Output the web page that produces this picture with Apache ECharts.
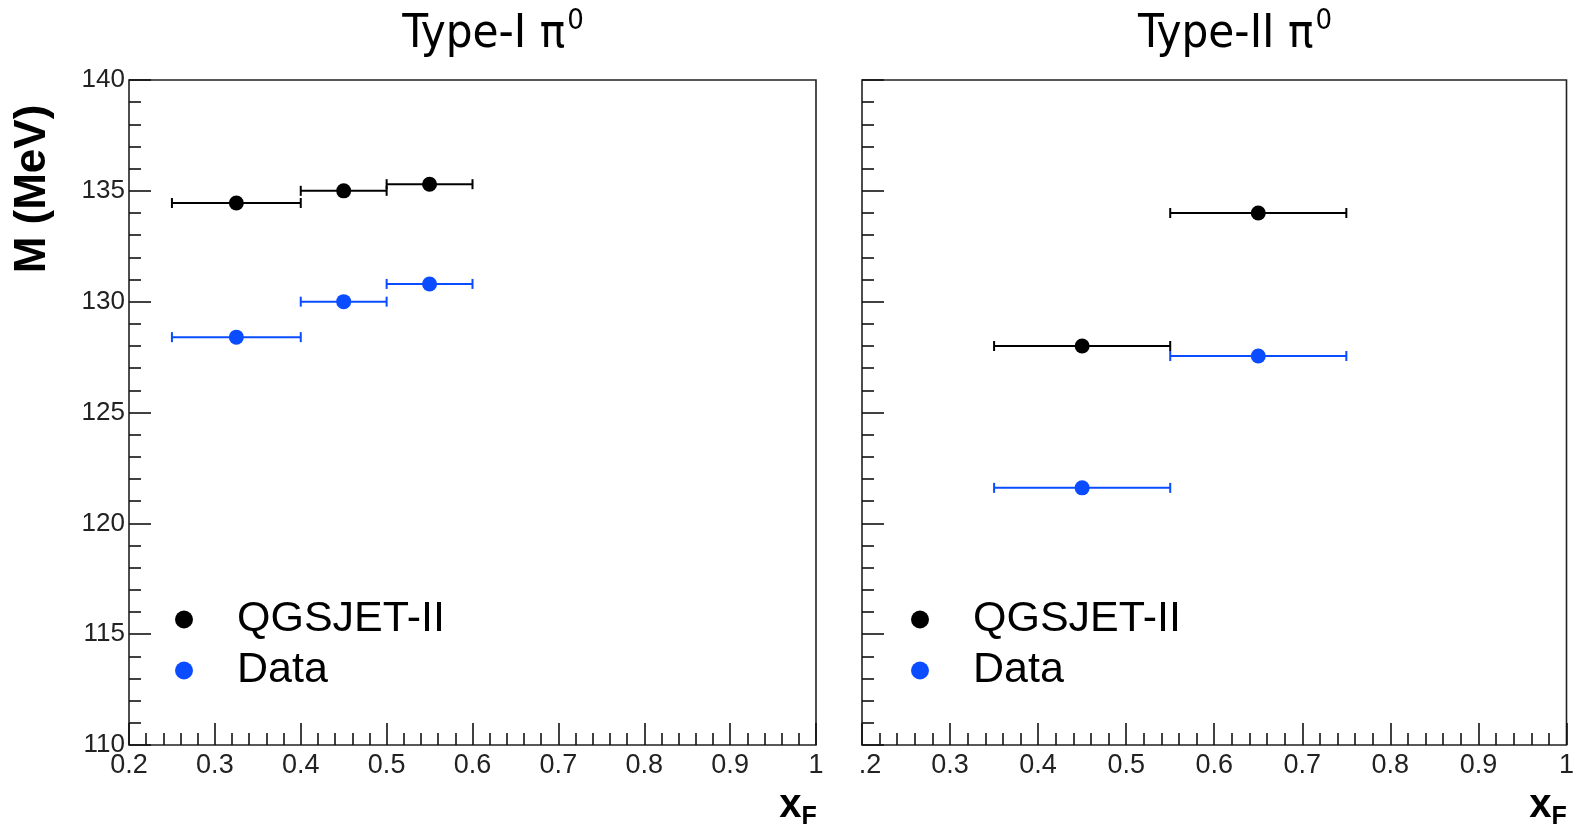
<!DOCTYPE html>
<html>
<head>
<meta charset="utf-8">
<title>pi0 mass vs xF</title>
<script src="https://cdn.jsdelivr.net/npm/echarts@6/dist/echarts.min.js"></script>
<style>
  html, body { margin: 0; padding: 0; background: #fff; }
  #chart { width: 1577px; height: 826px; }
</style>
</head>
<body>
<div id="chart"></div>
<script>
// Type-I pi0: bin centres, bin edges and reconstructed mass (MeV)
const xCentersI = [0.325, 0.45, 0.55];
const xLowI = [0.25, 0.40, 0.50];
const xHighI = [0.40, 0.50, 0.60];
const qgsjetI = [134.45, 135.0, 135.3];
const dataI = [128.4, 130.0, 130.8];

// Type-II pi0
const xCentersII = [0.45, 0.65];
const xLowII = [0.35, 0.55];
const xHighII = [0.55, 0.75];
const qgsjetII = [128.0, 134.0];
const dataII = [121.6, 127.55];

// Axis ranges / ticks
const xMin = 0.2, xMax = 1.0, xStep = 0.1;
const yMin = 110, yMax = 140, yStep = 5;

const seriesNames = ['QGSJET-II', 'Data'];
const titleStems = ['Type-I \u03c0', 'Type-II \u03c0'];

const BLACK = '#000000';
const BLUE = '#0a4cff';
const LABEL_FONT = '"Liberation Sans", Arial, Helvetica, sans-serif';
const TITLE_FONT = '"DejaVu Sans Condensed", "Liberation Sans Narrow", "Roboto Condensed", "Noto Sans", sans-serif';

const points = (xs, ys) => xs.map((x, i) => [x, ys[i]]);
const bars = (lo, hi, ys) => lo.map((l, i) => [l, hi[i], ys[i]]);

// Horizontal error bar with end caps, positioned through the axes
function errorBarItem(params, api) {
  const y = api.value(2);
  const a = api.coord([api.value(0), y]);
  const b = api.coord([api.value(1), y]);
  const cap = 5;
  const style = { stroke: api.visual('color'), lineWidth: 2 };
  return {
    type: 'group',
    children: [
      { type: 'line', shape: { x1: a[0], y1: a[1], x2: b[0], y2: b[1] }, style },
      { type: 'line', shape: { x1: a[0], y1: a[1] - cap, x2: a[0], y2: a[1] + cap }, style },
      { type: 'line', shape: { x1: b[0], y1: b[1] - cap, x2: b[0], y2: b[1] + cap }, style }
    ]
  };
}

const tickStyle = { color: '#111', width: 1.6 };

function xAxisFor(gridIndex, clipFirst) {
  return {
    type: 'value', gridIndex, min: xMin, max: xMax, interval: xStep,
    axisLine: { show: false },
    splitLine: { show: false },
    axisTick: { show: true, inside: true, length: 22, lineStyle: tickStyle },
    minorTick: { show: true, splitNumber: 5, length: 12, lineStyle: tickStyle },
    axisLabel: {
      show: true, margin: 7, fontSize: 27, fontFamily: LABEL_FONT, color: '#222',
      showMinLabel: true, showMaxLabel: true,
      formatter: v => {
        if (clipFirst && Math.abs(v - xMin) < 1e-9) return '{clip|.2}';
        return String(+v.toFixed(2));
      },
      rich: { clip: { padding: [0, 0, 0, 16], fontSize: 27, fontFamily: LABEL_FONT, color: '#222' } }
    }
  };
}

function yAxisFor(gridIndex, showLabels) {
  return {
    type: 'value', gridIndex, min: yMin, max: yMax, interval: yStep,
    axisLine: { show: false },
    splitLine: { show: false },
    axisTick: { show: true, inside: true, length: 22, lineStyle: tickStyle },
    minorTick: { show: true, splitNumber: 5, length: 12, lineStyle: tickStyle },
    axisLabel: {
      show: showLabels, margin: 4, fontSize: 26, fontFamily: LABEL_FONT, color: '#222',
      showMinLabel: true, showMaxLabel: true
    }
  };
}

function panelSeries(idx, xc, lo, hi, qg, dt) {
  return [
    {
      name: 'qgsjet-err-' + idx, type: 'custom', xAxisIndex: idx, yAxisIndex: idx,
      renderItem: errorBarItem, itemStyle: { color: BLACK },
      encode: { x: [0, 1], y: 2 }, data: bars(lo, hi, qg), z: 2, silent: true
    },
    {
      name: 'data-err-' + idx, type: 'custom', xAxisIndex: idx, yAxisIndex: idx,
      renderItem: errorBarItem, itemStyle: { color: BLUE },
      encode: { x: [0, 1], y: 2 }, data: bars(lo, hi, dt), z: 2, silent: true
    },
    {
      name: seriesNames[0], type: 'scatter', xAxisIndex: idx, yAxisIndex: idx,
      symbol: 'circle', symbolSize: 15, itemStyle: { color: BLACK, opacity: 1 },
      data: points(xc, qg), z: 3
    },
    {
      name: seriesNames[1], type: 'scatter', xAxisIndex: idx, yAxisIndex: idx,
      symbol: 'circle', symbolSize: 15, itemStyle: { color: BLUE, opacity: 1 },
      data: points(xc, dt), z: 3
    }
  ];
}

function legendAt(left) {
  return {
    orient: 'vertical', left, top: 593,
    itemWidth: 18, itemHeight: 18, itemGap: 8,
    icon: 'circle', selectedMode: false,
    data: seriesNames,
    textStyle: { fontSize: 43, fontFamily: LABEL_FONT, color: '#000', padding: [0, 0, 0, 39] }
  };
}

function panelTitle(stem, left) {
  return {
    text: '{t|' + stem + '}{s|0}', left, top: 2, textAlign: 'center',
    textStyle: {
      fontWeight: 'normal',
      rich: {
        t: { fontSize: 47, fontWeight: 'normal', fontFamily: TITLE_FONT, color: '#000' },
        s: { fontSize: 29, fontWeight: 'normal', fontFamily: TITLE_FONT, color: '#000', padding: [0, 0, 26, 2] }
      }
    }
  };
}

function xfTitle(left) {
  return {
    text: '{x|x}{f|F}', left, top: 776, textAlign: 'center',
    textStyle: {
      rich: {
        x: { fontSize: 40, fontWeight: 'bold', fontFamily: LABEL_FONT, color: '#000' },
        f: { fontSize: 25, fontWeight: 'bold', fontFamily: LABEL_FONT, color: '#000', padding: [24, 0, 0, 0] }
      }
    }
  };
}

const chart = echarts.init(document.getElementById('chart'), null, { renderer: 'canvas' });

chart.setOption({
  backgroundColor: '#ffffff',
  animation: false,
  title: [
    panelTitle(titleStems[0], 488),
    panelTitle(titleStems[1], 1230),
    xfTitle(793),
    xfTitle(1543)
  ],
  legend: [legendAt(170), legendAt(906)],
  grid: [
    { left: 129, top: 80, width: 687, height: 665, show: true, borderColor: '#222', borderWidth: 1.6, backgroundColor: '#fff' },
    { left: 862, top: 80, width: 710, height: 665, show: true, borderColor: '#222', borderWidth: 1.6, backgroundColor: '#fff' }
  ],
  xAxis: [xAxisFor(0, false), xAxisFor(1, true)],
  yAxis: [yAxisFor(0, true), yAxisFor(1, false)],
  series: [
    ...panelSeries(0, xCentersI, xLowI, xHighI, qgsjetI, dataI),
    ...panelSeries(1, xCentersII, xLowII, xHighII, qgsjetII, dataII)
  ],
  graphic: [
    {
      type: 'text', x: 33, y: 189, rotation: Math.PI / 2,
      style: {
        text: 'M (MeV)', fontSize: 44, fontWeight: 'bold', fontFamily: LABEL_FONT,
        fill: '#000', align: 'center', verticalAlign: 'middle'
      }
    }
  ]
});
</script>
</body>
</html>
